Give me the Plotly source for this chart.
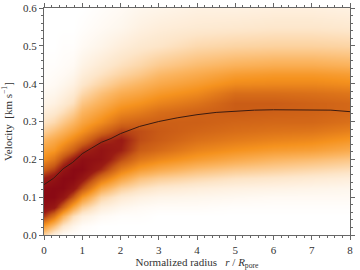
import plotly.graph_objects as go

radius = [0, 0.25, 0.5, 0.75, 1, 1.5, 2, 2.5, 3, 4, 5, 6, 7, 8]
velocity = [0, .025, .05, .075, .1, .125, .15, .175, .2, .225, .25, .275, .3,
            .325, .35, .375, .4, .425, .45, .5, .55, .6]

col_00 = [.22, .46, .78, .95, 1, .98, .85, .68, .52, .44, .35, .24, .16, .1, .06, .04, .02, .01, .01, 0, 0, 0]
col_02 = [.08, .3, .6, .88, 1, 1, .92, .76, .6, .48, .4, .3, .2, .13, .08, .05, .03, .02, .01, 0, 0, 0]
col_05 = [.02, .14, .36, .66, .9, 1, 1, .9, .74, .58, .46, .36, .27, .18, .12, .08, .05, .03, .02, .01, 0, 0]
col_07 = [.01, .06, .18, .42, .7, .9, 1, 1, .86, .68, .54, .43, .34, .25, .17, .12, .08, .05, .03, .01, 0, 0]
col_10 = [0, .02, .09, .25, .48, .72, .9, 1, .96, .8, .62, .5, .42, .35, .28, .2, .14, .1, .07, .03, .01, 0]
col_15 = [0, 0, .03, .1, .22, .4, .62, .82, .93, .92, .8, .64, .52, .44, .37, .3, .22, .16, .12, .06, .03, .015]
col_20 = [0, 0, .01, .05, .12, .24, .42, .58, .74, .84, .86, .76, .64, .54, .46, .38, .3, .22, .17, .1, .05, .03]
col_25 = [0, 0, .01, .03, .08, .17, .3, .46, .6, .69, .73, .73, .67, .58, .5, .42, .35, .27, .21, .13, .08, .05]
col_30 = [0, 0, 0, .02, .06, .13, .25, .4, .54, .64, .69, .7, .68, .63, .55, .47, .4, .33, .26, .15, .1, .06]
col_40 = [0, 0, 0, .02, .05, .1, .2, .32, .46, .55, .62, .66, .68, .67, .61, .53, .46, .39, .32, .2, .12, .08]
col_50 = [0, 0, 0, .01, .04, .08, .16, .27, .4, .5, .58, .63, .66, .69, .69, .63, .53, .45, .36, .22, .13, .08]
col_60 = [0, 0, 0, .01, .03, .07, .14, .24, .35, .46, .55, .61, .65, .68, .69, .63, .54, .47, .38, .23, .14, .09]
col_70 = [0, 0, 0, .01, .03, .06, .12, .21, .32, .44, .53, .6, .65, .67, .67, .62, .54, .47, .38, .23, .14, .09]
col_80 = [0, 0, 0, .01, .03, .05, .1, .18, .28, .39, .48, .56, .62, .65, .65, .6, .52, .45, .36, .22, .13, .08]
columns = [col_00, col_02, col_05, col_07, col_10, col_15, col_20, col_25, col_30, col_40, col_50, col_60, col_70, col_80]
density = [list(row) for row in zip(*columns)]

profile_r = [0, .25, .5, .75, .95, 1, 1.25, 1.5, 1.75, 2, 2.5, 3, 3.5, 4, 4.5, 5, 5.5, 6, 6.5, 7, 7.5, 8]
profile_v = [.133, .15, .175, .192, .21, .215, .23, .245, .255, .268, .287, .3, .31, .318, .324, .328, .33, .331, .331, .331, .33, .326]

colorscale = [[0, "#ffffff"], [.15, "#fde5c8"], [.35, "#fbb45f"], [.5, "#f5921e"],
              [.7, "#c85a16"], [.85, "#9a1c14"], [1, "#8a0a14"]]

serif = "Liberation Serif, serif"

fig = go.Figure()
fig.add_trace(go.Heatmap(x=radius, y=velocity, z=density, colorscale=colorscale, zmin=0, zmax=1,
                         zsmooth="best", showscale=False, hoverinfo="skip"))
fig.add_trace(go.Scatter(x=profile_r, y=profile_v, mode="lines", line=dict(color="#3a1a10", width=1),
                         showlegend=False, hoverinfo="skip"))

axis = dict(showgrid=False, zeroline=False, showline=True, linecolor="#666666", linewidth=1, mirror="ticks",
            ticks="outside", ticklen=4, tickcolor="#666666", tickwidth=1, automargin=False,
            tickfont=dict(family=serif, size=11, color="#333333"))
fig.update_xaxes(range=[0, 8], tick0=0, dtick=1, ticklabelstandoff=1,
                 minor=dict(dtick=0.2, tick0=0, ticks="outside", ticklen=2, tickcolor="#666666", showgrid=False),
                 title=dict(text="Normalized radius   <i>r</i> / <i>R</i><sub>pore</sub>",
                            font=dict(family=serif, size=11, color="#333333")), **axis)
fig.update_yaxes(range=[0, 0.6], tick0=0, dtick=0.1, tickformat=".1f",
                 minor=dict(dtick=0.02, tick0=0, ticks="outside", ticklen=2, tickcolor="#666666", showgrid=False),
                 title=dict(text="Velocity  [km s<sup>−1</sup>]",
                            font=dict(family=serif, size=11, color="#333333")), **axis)
fig.update_layout(width=360, height=270, margin=dict(l=44, r=10, t=8, b=35), paper_bgcolor="white",
                  plot_bgcolor="white", font=dict(family=serif, size=11, color="#333333"),
                  showlegend=False)
fig.write_html("out.html", config=dict(displayModeBar=False),
               post_script="document.body.style.margin='0';document.documentElement.style.overflow='hidden';")
